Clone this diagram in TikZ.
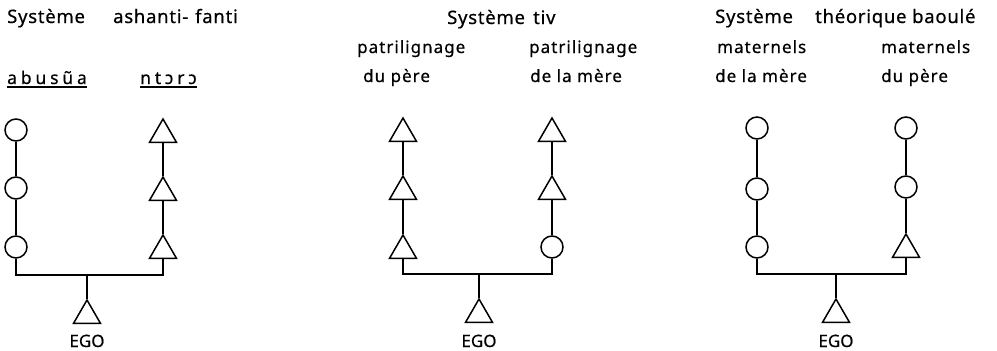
\documentclass[tikz,border=0pt]{standalone}
\usepackage{fontspec}
\setmainfont{Noto Sans}[LetterSpace=6,FakeBold=0.5]
\newfontfamily\egofont{Noto Sans}[FakeBold=0.5]
\newfontfamily\titlefont{Noto Sans}[LetterSpace=4,FakeBold=0.5]
\newfontfamily\widefont{Noto Sans}[LetterSpace=22,FakeBold=0.5]
\usetikzlibrary{shapes.geometric}
\tikzset{
  fem/.style={circle,draw,line width=1.5pt,minimum size=22pt,inner sep=0pt},
  masc/.style={regular polygon,regular polygon sides=3,draw,line width=1.5pt,minimum size=31pt,inner sep=0pt},
  link/.style={line width=1.9pt},
  lbl/.style={anchor=base west,inner sep=0pt,font=\fontsize{17}{19}\selectfont},
  wlbl/.style={anchor=base west,inner sep=0pt,font=\widefont\fontsize{17.5}{19}\selectfont},
  ttl/.style={anchor=base west,inner sep=0pt,font=\titlefont\fontsize{18.5}{21}\selectfont},
  ego/.style={anchor=base,inner sep=0pt,font=\egofont\fontsize{17}{19}\selectfont}
}
\begin{document}
\begin{tikzpicture}[x=1pt,y=-1pt]
\useasboundingbox (0,0) rectangle (997,351);
% ---------- Panel 1 ----------
\node[ttl] (t1) at (7,23) {\makebox[106pt][l]{Système}\makebox[82pt][l]{ashanti-}fanti};
\node[wlbl] (a1) at (7,84) {abusũa};
\node[wlbl] (a2) at (140,84) {ntɔrɔ};
\draw[line width=1.3pt] ([yshift=-3pt]a1.base west) -- ([yshift=-3pt]a1.base east);
\draw[line width=1.3pt] ([yshift=-3pt]a2.base west) -- ([yshift=-3pt]a2.base east);
\node[fem] (p1l1) at (16,130) {};
\node[fem] (p1l2) at (16,188) {};
\node[fem] (p1l3) at (16,247) {};
\node[masc] (p1r1) at (163,134.5) {};
\node[masc] (p1r2) at (163,192.5) {};
\node[masc] (p1r3) at (163,250.5) {};
\coordinate (p1b) at (87,275);
\node[masc] (p1e) at (87,315.5) {};
\node[ego] (p1t) at (87,347) {EGO};
\draw[link] (p1l1) -- (p1l2);
\draw[link] (p1l2) -- (p1l3);
\draw[link] (p1r1) -- (p1r2);
\draw[link] (p1r2) -- (p1r3);
\draw[link] (p1l3) |- (p1b) -| (p1r3);
\draw[link] (p1b) -- (p1e);
% ---------- Panel 2 ----------
\node[ttl] (t2) at (447,24) {\makebox[86pt][l]{Système}tiv};
\node[lbl] (b1) at (357,53) {patrilignage};
\node[lbl] (b2) at (363,82) {du père};
\node[lbl] (b3) at (529,53) {patrilignage};
\node[lbl] (b4) at (530,82) {de la mère};
\node[masc] (p2l1) at (403,133.5) {};
\node[masc] (p2l2) at (403,191.5) {};
\node[masc] (p2l3) at (403,250.5) {};
\node[masc] (p2r1) at (552,133.5) {};
\node[masc] (p2r2) at (552,191.5) {};
\node[fem] (p2r3) at (552,247) {};
\coordinate (p2b) at (479,274);
\node[masc] (p2e) at (479,314.5) {};
\node[ego] (p2t) at (479,347) {EGO};
\draw[link] (p2l1) -- (p2l2);
\draw[link] (p2l2) -- (p2l3);
\draw[link] (p2r1) -- (p2r2);
\draw[link] (p2r2) -- (p2r3);
\draw[link] (p2l3) |- (p2b) -| (p2r3);
\draw[link] (p2b) -- (p2e);
% ---------- Panel 3 ----------
\node[ttl] (t3) at (715,23) {\makebox[100pt][l]{Système}\makebox[97pt][l]{théorique}baoulé};
\node[lbl] (c1) at (717,53) {maternels};
\node[lbl] (c2) at (715,82) {de la mère};
\node[lbl] (c3) at (881,53) {maternels};
\node[lbl] (c4) at (881,82) {du père};
\node[fem] (p3l1) at (757,128) {};
\node[fem] (p3l2) at (757,189) {};
\node[fem] (p3l3) at (757,247) {};
\node[fem] (p3r1) at (906,128) {};
\node[fem] (p3r2) at (906,187) {};
\node[masc] (p3r3) at (906,249.5) {};
\coordinate (p3b) at (836,274);
\node[masc] (p3e) at (836,314.5) {};
\node[ego] (p3t) at (836,347) {EGO};
\draw[link] (p3l1) -- (p3l2);
\draw[link] (p3l2) -- (p3l3);
\draw[link] (p3r1) -- (p3r2);
\draw[link] (p3r2) -- (p3r3);
\draw[link] (p3l3) |- (p3b) -| (p3r3);
\draw[link] (p3b) -- (p3e);
\end{tikzpicture}
\end{document}
